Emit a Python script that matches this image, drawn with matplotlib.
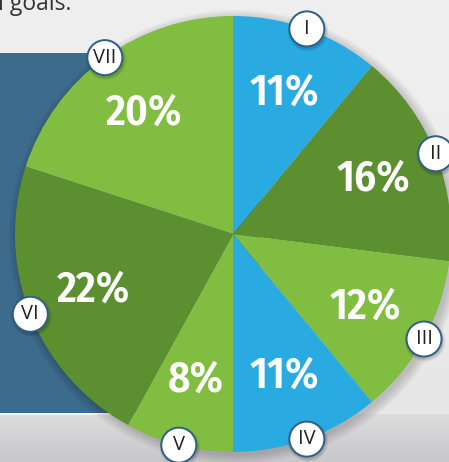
import matplotlib
matplotlib.use("Agg")
import matplotlib.pyplot as plt
import numpy as np
from matplotlib.patches import Circle, Rectangle

# Data
labels = ["I", "II", "III", "IV", "V", "VI", "VII"]
values = [11, 16, 12, 11, 8, 22, 20]
pct_text = ["11%", "16%", "12%", "11%", "8%", "22%", "20%"]

BLUE = "#29abe2"
DGREEN = "#5c8f2f"
LGREEN = "#80bd41"
colors = [BLUE, DGREEN, LGREEN, BLUE, LGREEN, DGREEN, LGREEN]

W, H = 449, 462
fig = plt.figure(figsize=(W / 100, H / 100), dpi=100)
ax = fig.add_axes([0, 0, 1, 1])
ax.set_xlim(0, W)
ax.set_ylim(0, H)
ax.set_aspect("equal")
ax.axis("off")

# Background: light grey top, darker gradient bottom
grad = np.linspace(0, 1, 256).reshape(-1, 1)
cmap = matplotlib.colors.LinearSegmentedColormap.from_list(
    "bg", ["#e4e4e5", "#e9e9ea", "#ececec", "#eeeeee", "#efefef"])
ax.imshow(grad, extent=(0, W, 0, H), cmap=cmap, aspect="auto", zorder=0, origin="lower")
bot = np.linspace(0, 1, 64).reshape(-1, 1)
cmap2 = matplotlib.colors.LinearSegmentedColormap.from_list("bot", ["#c8c8ca", "#d2d2d4", "#dcdcdd"])
ax.imshow(bot, extent=(0, W, 0, H - 414), cmap=cmap2, aspect="auto", zorder=0.5, origin="lower")

# Blue panel with white underline
ax.add_patch(Rectangle((0, H - 413), 260, 360, facecolor="#3d6b8c", lw=0, zorder=1))
ax.add_patch(Rectangle((0, H - 415), 260, 2, facecolor="#f4f4f4", lw=0, zorder=1))

# Header text fragment
ax.text(-2, H - 10, "l goals.", fontsize=16.5, color="#333333", family=["Open Sans", "DejaVu Sans"],
        ha="left", va="baseline", zorder=2)

cx, cy, R = 233, H - 234, 218

# Pie shadow (soft)
for i in range(8):
    ax.add_patch(Circle((cx + 3, cy - 3), R + i * 1.3, facecolor="#000000", alpha=0.022, lw=0, zorder=2))

wedges, texts, autotexts = ax.pie(values, colors=colors, startangle=90, counterclock=False,
                                  center=(cx, cy), radius=R, labels=labels, labeldistance=1.0,
                                  autopct=lambda p: "", pctdistance=0.69,
                                  wedgeprops=dict(linewidth=0), frame=True)
for w in wedges:
    w.set_zorder(3)
ax.set_xlim(0, W)
ax.set_ylim(0, H)
ax.axis("off")

for t, s in zip(autotexts, pct_text):
    t.set_text(s)
    t.set_color("white")
    t.set_fontsize(31)
    t.set_fontweight(600)
    t.set_family(["Fira Sans Condensed", "DejaVu Sans"])
    t.set_zorder(5)

# Roman numeral badges at wedge edges
for t in texts:
    x, y = t.get_position()
    for k in range(4):
        ax.add_patch(Circle((x + 1, y - 2), 18 + k * 0.8, facecolor="black", alpha=0.05, lw=0, zorder=5))
    ax.add_patch(Circle((x, y), 17.5, facecolor="white", edgecolor="#2f5f88", lw=1.4, zorder=6))
    t.set_ha("center")
    t.set_va("center")
    t.set_fontsize(14.5)
    t.set_color("#222222")
    t.set_family(["Open Sans", "DejaVu Sans"])
    t.set_zorder(7)

fig.savefig("out.png", dpi=100)
